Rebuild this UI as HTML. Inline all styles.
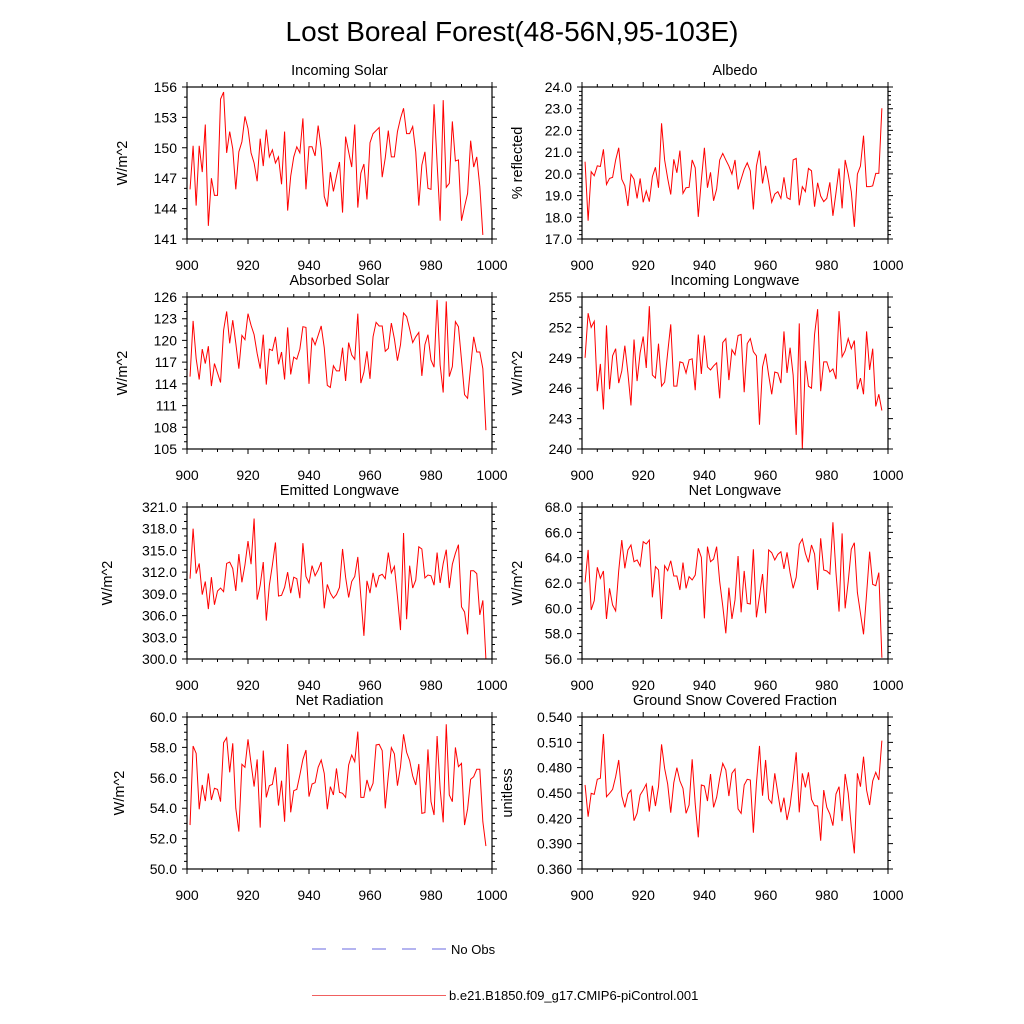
<!DOCTYPE html>
<html><head><meta charset="utf-8"><style>
html,body{margin:0;padding:0;background:#fff;}
svg{display:block;font-family:"Liberation Sans",Arial,sans-serif;}
</style></head><body>
<svg id="chart" width="1024" height="1024" viewBox="0 0 1024 1024" xmlns="http://www.w3.org/2000/svg">
<rect width="1024" height="1024" fill="#fff"/>
<text x="512" y="41" text-anchor="middle" font-size="28">Lost Boreal Forest(48-56N,95-103E)</text>
<g>
<line x1="312" y1="949" x2="447" y2="949" stroke="#6a6ae0" stroke-width="1" stroke-dasharray="14,16"/>
<text x="451" y="954" font-size="13">No Obs</text>
<line x1="312" y1="995.5" x2="446" y2="995.5" stroke="#f06060" stroke-width="1"/>
<text x="449" y="1000" font-size="13">b.e21.B1850.f09_g17.CMIP6-piControl.001</text>
</g>
</svg>
<script>
const startYear = 901;
const xTicks = [900, 920, 940, 960, 980, 1000];

const incomingSolar = [145.9,150.2,144.3,150.2,147.6,152.3,142.3,147.0,145.3,145.3,154.8,155.5,149.5,151.6,149.9,145.9,149.6,150.6,153.1,151.9,149.5,148.5,146.7,150.9,148.2,151.8,149.1,149.8,148.5,149.1,146.4,151.6,143.8,147.2,149.1,150.1,149.5,152.9,145.9,150.1,150.1,149.2,152.2,149.9,145.2,144.2,147.6,145.7,147.2,148.6,143.6,151.1,149.6,148.1,152.3,144.1,147.5,148.4,144.9,150.5,151.4,151.7,152.0,147.1,149.0,151.7,149.1,149.1,151.6,152.9,153.9,151.4,151.4,152.1,149.6,144.3,148.3,149.6,146.0,145.9,154.3,148.5,142.8,154.7,146.1,146.5,152.6,148.7,148.8,142.8,144.2,145.5,150.7,148.1,149.1,146.2,141.4];
const albedo = [20.56,17.84,20.10,19.91,20.37,20.34,21.13,19.51,19.79,19.84,20.64,21.20,19.75,19.45,18.52,19.98,19.75,18.87,19.79,18.69,19.21,18.72,19.87,20.30,19.36,22.33,20.64,19.79,19.05,20.67,20.05,21.07,19.10,19.36,19.38,20.64,20.28,18.02,19.71,21.20,19.36,20.07,18.76,19.30,20.64,20.94,20.64,20.36,19.99,20.64,19.28,19.75,20.21,20.51,20.14,18.36,20.36,21.07,19.56,20.37,19.61,18.69,19.07,19.18,18.87,19.84,18.90,18.82,20.64,20.71,18.55,19.41,19.18,20.25,20.14,18.49,19.59,18.98,18.72,18.87,19.61,18.07,19.13,20.25,18.41,20.64,19.99,19.18,17.56,19.99,20.36,21.76,19.41,19.41,19.45,20.02,20.02,23.02];
const absorbedSolar = [115.0,122.7,117.5,114.6,118.8,116.8,119.2,113.7,116.8,115.5,114.2,121.4,124.0,119.6,122.8,119.6,116.1,120.7,120.1,123.7,122.1,120.8,118.2,116.1,120.8,113.9,118.8,118.6,120.5,116.7,118.4,114.6,121.8,115.3,117.7,117.4,118.8,121.9,121.8,114.0,120.4,119.4,120.7,122.0,119.0,113.8,113.5,116.5,115.8,115.8,119.0,114.4,119.7,118.0,117.4,123.7,114.1,115.6,118.5,114.7,120.5,122.5,122.0,122.0,118.5,118.9,122.4,120.2,117.2,119.4,123.8,123.3,121.6,119.7,120.5,121.1,115.1,119.4,120.8,117.3,116.3,125.6,116.6,112.8,125.4,115.0,116.4,122.6,121.9,117.3,112.5,112.0,116.4,120.5,118.4,118.4,116.1,107.6];
const incomingLongwave = [249.0,253.4,252.0,252.6,245.7,248.4,243.9,252.2,245.9,249.2,249.9,246.5,247.7,250.2,247.5,244.3,250.8,246.7,249.5,251.1,248.0,254.1,247.3,247.0,250.4,246.2,246.6,249.5,252.3,246.2,246.2,248.6,248.5,247.5,248.8,248.9,245.8,251.3,247.4,251.2,248.1,247.8,248.2,248.5,245.0,250.5,250.9,246.8,249.8,249.3,251.2,251.3,245.6,250.4,250.9,249.6,249.2,242.4,248.1,249.4,247.3,245.4,247.6,247.5,246.5,251.6,247.5,250.0,247.3,241.4,252.4,240.0,248.7,246.2,246.0,251.3,253.8,245.7,248.6,248.6,247.6,247.9,246.9,253.6,249.1,249.7,250.9,249.9,250.7,245.9,247.0,245.4,251.6,247.8,249.9,244.2,245.4,243.8];
const emittedLongwave = [311.1,318.0,311.8,313.2,308.9,310.7,306.9,311.3,307.5,309.4,309.8,309.3,313.2,313.4,312.5,309.4,314.5,310.6,313.0,316.3,313.1,319.4,308.2,310.2,313.4,305.3,310.2,313.0,316.1,308.7,308.8,309.9,312.0,309.1,311.3,311.1,308.4,316.0,311.4,310.5,312.9,311.5,312.3,313.4,307.0,310.3,309.1,308.4,308.9,309.9,315.2,311.3,308.5,310.7,311.4,314.1,308.6,303.2,310.8,309.1,311.9,309.9,311.5,311.7,311.1,314.7,311.9,312.8,308.6,304.0,317.4,305.5,312.9,309.8,310.9,315.5,315.2,311.2,311.6,311.5,310.2,314.7,310.5,313.2,315.1,309.8,313.1,314.6,315.8,307.2,306.5,303.4,312.2,312.2,311.8,306.1,308.1,300.0];
const netLongwave = [62.05,64.61,59.87,60.61,63.24,62.37,62.95,59.16,61.58,60.26,59.79,62.97,65.39,63.16,64.61,65.0,63.68,63.82,63.34,65.26,65.08,65.39,60.87,63.29,63.03,59.16,63.37,62.97,63.76,62.55,62.55,61.45,63.61,61.58,62.5,62.24,62.63,64.74,64.03,59.21,64.87,63.68,63.89,64.87,62.11,60.18,58.03,61.63,59.16,60.66,64.13,59.68,62.95,60.39,60.34,64.66,59.29,60.97,62.71,59.61,64.61,64.39,63.82,64.26,64.47,63.11,64.42,62.82,61.58,62.45,65.05,65.47,64.34,63.63,65.0,64.29,61.45,65.53,63.03,62.95,62.71,66.79,62.82,59.74,65.92,60.0,62.11,64.66,65.18,61.24,59.61,57.95,61.11,64.47,61.89,61.79,62.82,56.1];
const netRadiation = [52.89,58.09,57.61,53.93,55.53,54.47,56.29,54.54,55.31,55.24,54.43,58.31,58.64,56.36,58.27,53.99,52.46,56.89,56.69,58.53,56.95,55.42,57.21,52.72,57.79,54.71,55.48,55.57,56.69,54.17,55.81,53.11,58.22,53.73,55.15,55.24,56.18,57.21,57.83,54.76,55.59,55.68,56.69,57.17,56.29,53.93,55.42,54.87,56.62,55.04,54.98,54.71,56.84,57.5,57.06,59.04,54.71,54.71,55.86,55.15,55.64,58.16,58.2,57.79,53.99,56.12,57.98,57.57,55.48,56.73,58.86,57.68,57.13,56.12,55.53,56.91,53.66,53.71,57.87,54.43,53.55,58.75,55.26,53.07,59.52,54.87,54.43,58.0,56.73,56.95,52.89,53.95,55.9,56.07,56.56,56.56,53.11,51.51];
const snowFraction = [0.4595,0.422,0.4496,0.4484,0.4662,0.4674,0.5199,0.4456,0.4496,0.4543,0.4693,0.4891,0.4464,0.433,0.4488,0.4535,0.4172,0.4259,0.4476,0.4535,0.4606,0.428,0.4587,0.4346,0.4575,0.5076,0.4792,0.4606,0.4267,0.4622,0.48,0.4642,0.4555,0.4259,0.4358,0.4899,0.437,0.3975,0.4595,0.4583,0.4405,0.4725,0.433,0.4449,0.4674,0.4851,0.4772,0.4464,0.4733,0.4784,0.4311,0.4259,0.4595,0.4662,0.4654,0.403,0.4614,0.5057,0.4468,0.4891,0.4429,0.4378,0.4733,0.4496,0.4272,0.4445,0.418,0.435,0.4646,0.4982,0.4271,0.4733,0.4567,0.4745,0.4425,0.435,0.4346,0.3935,0.4535,0.433,0.4251,0.4113,0.4488,0.4575,0.4168,0.4725,0.4496,0.4101,0.3785,0.4733,0.4575,0.493,0.4535,0.4358,0.4642,0.4745,0.4654,0.512];

const panels = [
 {name:'incoming-solar', title:'Incoming Solar', ylab:'W/m^2', data:incomingSolar, min:141, max:156, major:3, minor:1, dec:0, box:[187,87,492,239], ylx:127},
 {name:'albedo', title:'Albedo', ylab:'% reflected', data:albedo, min:17, max:24, major:1, minor:0.2, dec:1, box:[582,87,888,239], ylx:522},
 {name:'absorbed-solar', title:'Absorbed Solar', ylab:'W/m^2', data:absorbedSolar, min:105, max:126, major:3, minor:1, dec:0, box:[187,297,492,449], ylx:127},
 {name:'incoming-longwave', title:'Incoming Longwave', ylab:'W/m^2', data:incomingLongwave, min:240, max:255, major:3, minor:1, dec:0, box:[582,297,888,449], ylx:522},
 {name:'emitted-longwave', title:'Emitted Longwave', ylab:'W/m^2', data:emittedLongwave, min:300, max:321, major:3, minor:1, dec:1, box:[187,507,492,659], ylx:112},
 {name:'net-longwave', title:'Net Longwave', ylab:'W/m^2', data:netLongwave, min:56, max:68, major:2, minor:0.5, dec:1, box:[582,507,888,659], ylx:522},
 {name:'net-radiation', title:'Net Radiation', ylab:'W/m^2', data:netRadiation, min:50, max:60, major:2, minor:0.5, dec:1, box:[187,717,492,869], ylx:124},
 {name:'ground-snow', title:'Ground Snow Covered Fraction', ylab:'unitless', data:snowFraction, min:0.36, max:0.54, major:0.03, minor:0.01, dec:3, box:[582,717,888,869], ylx:512}
];

const NS = 'http://www.w3.org/2000/svg';
const svg = document.getElementById('chart');
function mk(tag, attrs, parent){
  const e = document.createElementNS(NS, tag);
  for (const k in attrs) e.setAttribute(k, attrs[k]);
  parent.appendChild(e);
  return e;
}

panels.forEach(p => {
  const [x0,y0,x1,y1] = p.box;
  const g = mk('g', {}, svg);
  
  
  const xs = v => x0 + (v - 900) / 100 * (x1 - x0);
  const ys = v => y1 - (v - p.min) / (p.max - p.min) * (y1 - y0);

  let tickPath = '';
  const nMin = Math.round((p.max - p.min) / p.minor);
  for (let i = 0; i <= nMin; i++) {
    const v = p.min + i * p.minor;
    const isMajor = Math.abs(((v - p.min) / p.major) - Math.round((v - p.min) / p.major)) < 1e-6;
    const len = isMajor ? 5 : 3;
    const y = ys(v);
    tickPath += `M${x0} ${y}h${-len}M${x1} ${y}h${len}`;
    if (isMajor) {
      const t = mk('text', {x: x0 - 10, y: y + 5, 'text-anchor': 'end', 'font-size': 14}, g);
      
      
      t.textContent = v.toFixed(p.dec);
    }
  }
  for (let yr = 900; yr <= 1000; yr += 5) {
    const isMajor = yr % 20 === 0;
    const len = isMajor ? 5 : 3;
    const x = xs(yr);
    tickPath += `M${x} ${y1}v${len}M${x} ${y0}v${-len}`;
  }
  xTicks.forEach(yr => {
    const t = mk('text', {x: xs(yr), y: y1 + 31, 'text-anchor': 'middle', 'font-size': 14}, g);
    
    
    t.textContent = yr;
  });
  const tk = mk('path', {d: tickPath, stroke: '#000', 'stroke-width': 1, fill: 'none'}, g);
  
  

  const pts = p.data.map((v, i) => xs(startYear + i).toFixed(2) + ',' + ys(v).toFixed(2)).join(' ');
  const ln = mk('polyline', {points: pts, fill: 'none', stroke: '#ff0000', 'stroke-width': 1}, g);
  
  

  const bx = mk('rect', {x: x0, y: y0, width: x1 - x0, height: y1 - y0, fill: 'none', stroke: '#000', 'stroke-width': 1.2}, g);
  
  

  const tt = mk('text', {x: (x0 + x1) / 2, y: y0 - 12, 'text-anchor': 'middle', 'font-size': 14.5}, g);
  
  
  tt.textContent = p.title;

  const yl = mk('text', {x: 0, y: 0, 'text-anchor': 'middle', 'font-size': 14.5, transform: `translate(${p.ylx},${(y0 + y1) / 2}) rotate(-90)`}, g);
  
  
  yl.textContent = p.ylab;
});
</script>
</body></html>
